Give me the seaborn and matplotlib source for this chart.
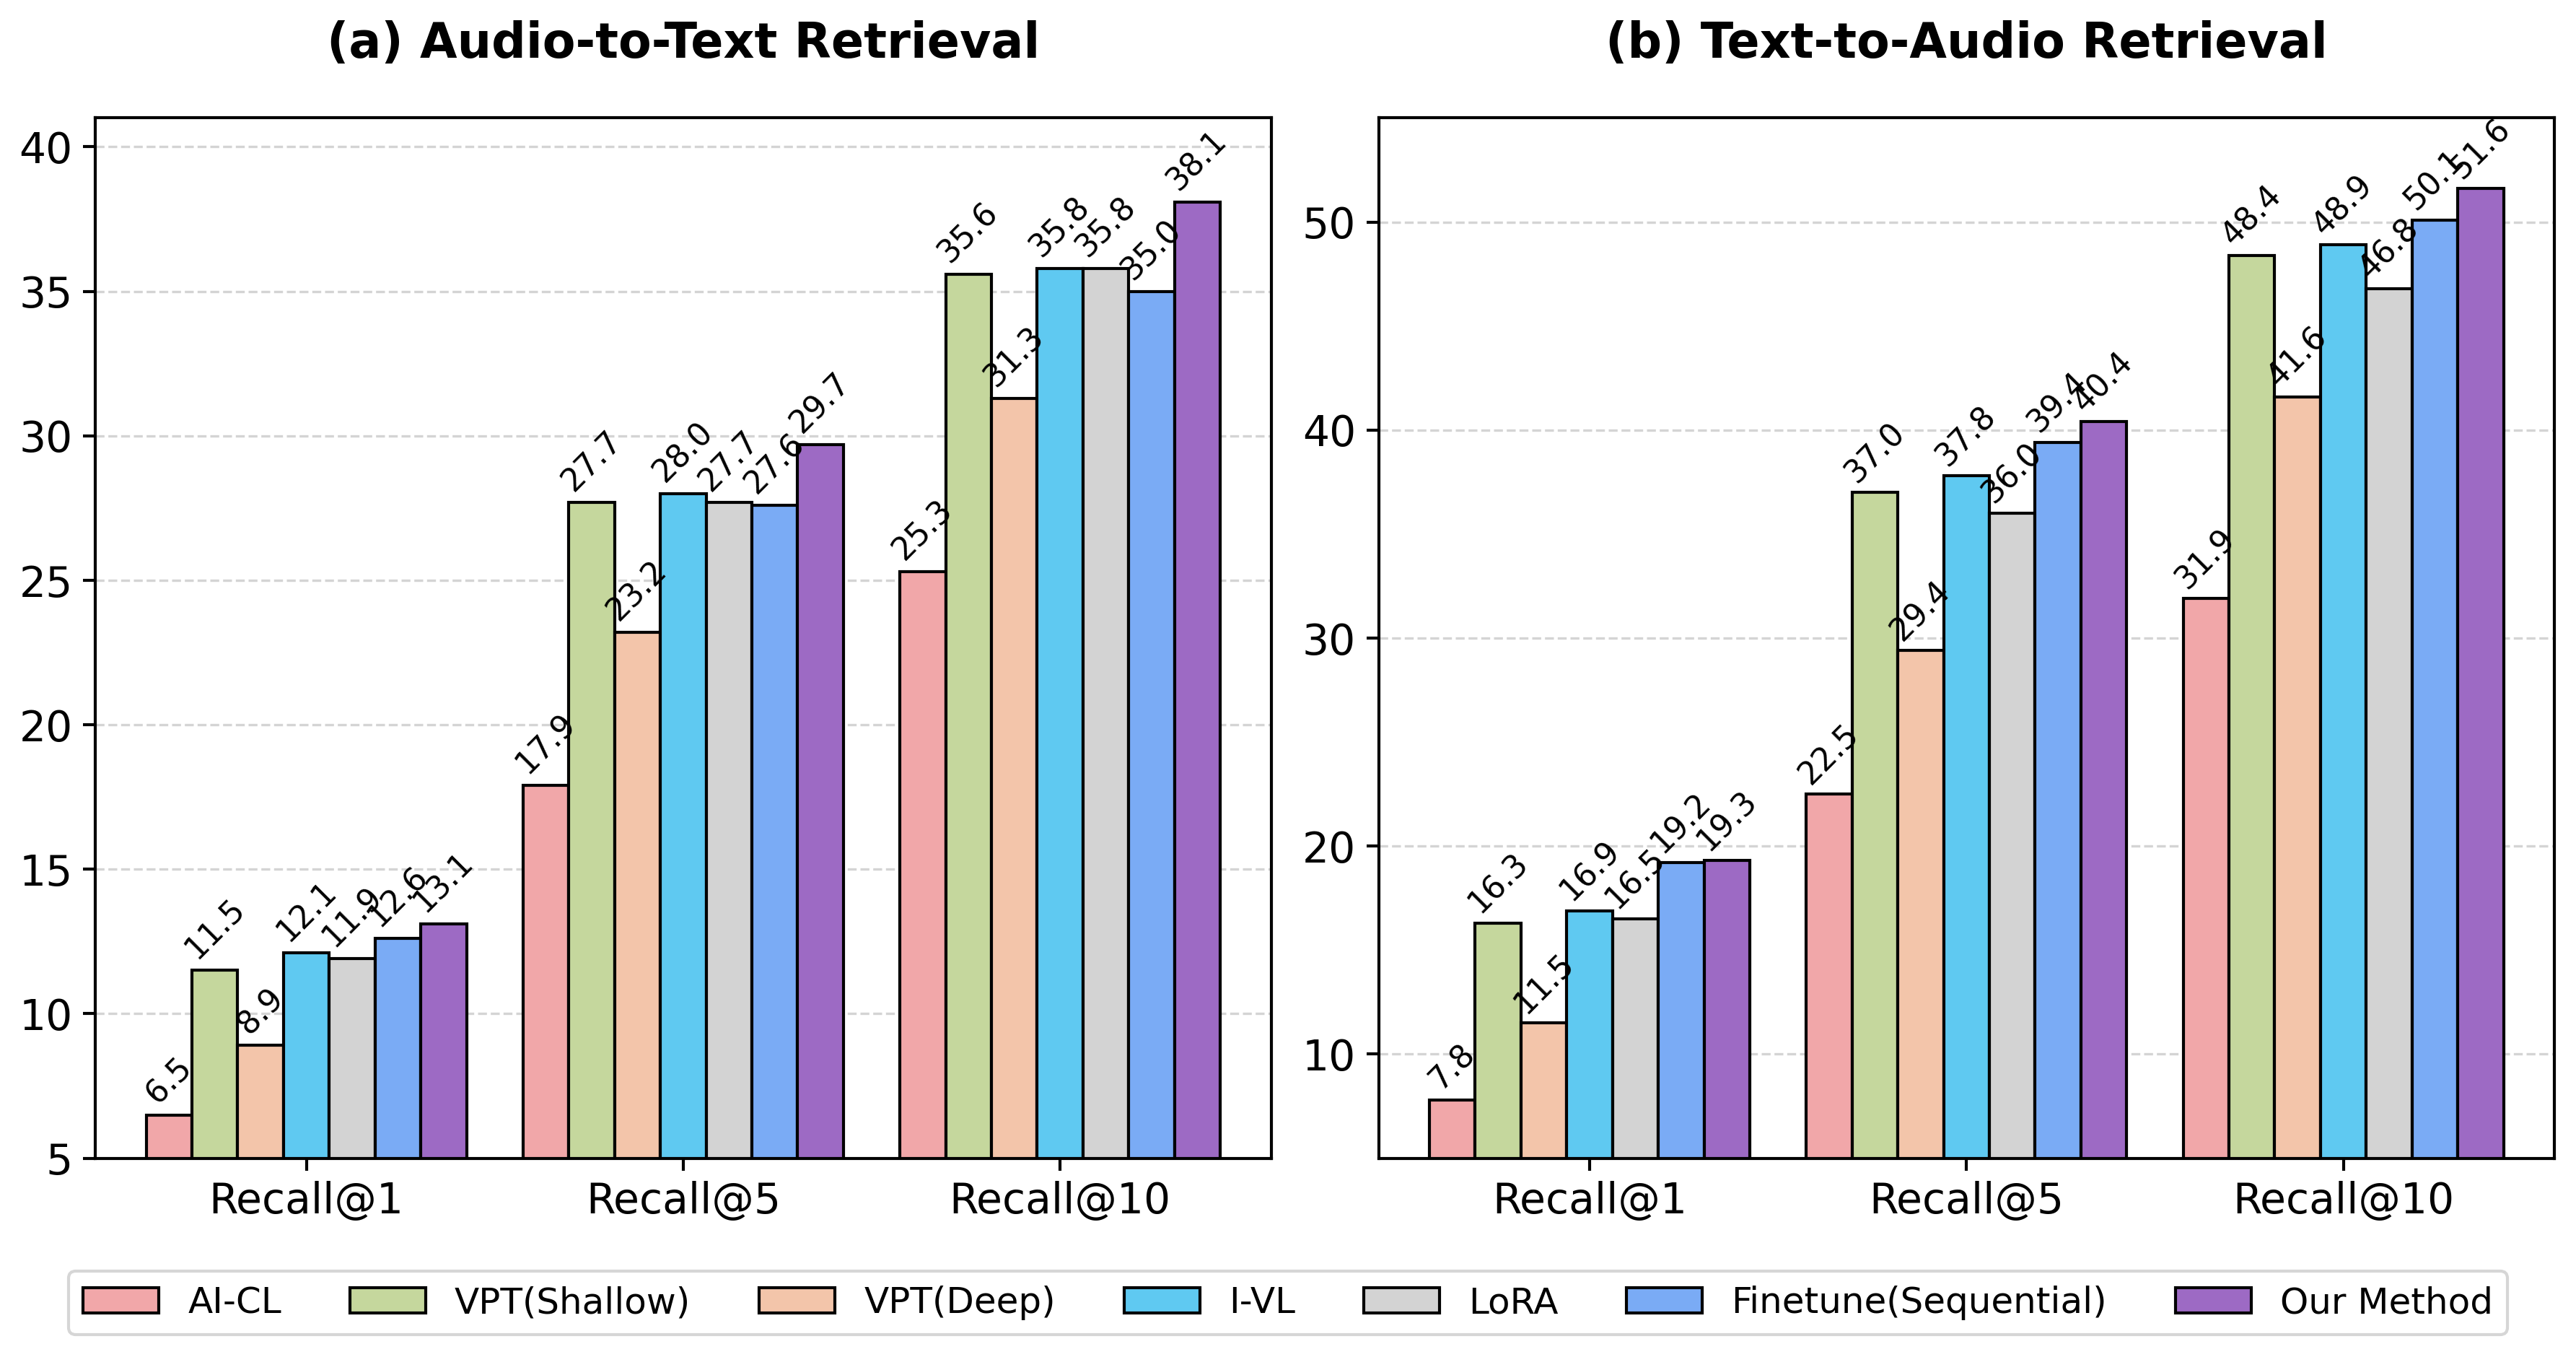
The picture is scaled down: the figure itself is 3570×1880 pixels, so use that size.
"""Audio/text retrieval recall comparison"""
import pandas as pd
import numpy as np
import matplotlib
matplotlib.use('Agg')
import matplotlib.pyplot as plt
import seaborn as sns

methods = ['AI-CL', 'VPT(Shallow)', 'VPT(Deep)', 'I-VL', 'LoRA',
           'Finetune(Sequential)', 'Our Method']
metrics = ['Recall@1', 'Recall@5', 'Recall@10']
colors = ['#F1A7A9', '#C5D79D', '#F3C5AA', '#5FC9F1', '#D3D3D3',
          '#7AABF5', '#9D6AC4']

# rows = methods, columns = Recall@1, @5, @10
a2t = [
    [6.5, 17.9, 25.3],
    [11.5, 27.7, 35.6],
    [8.9, 23.2, 31.3],
    [12.1, 28.0, 35.8],
    [11.9, 27.7, 35.8],
    [12.6, 27.6, 35.0],
    [13.1, 29.7, 38.1],
]
t2a = [
    [7.8, 22.5, 31.9],
    [16.3, 37.0, 48.4],
    [11.5, 29.4, 41.6],
    [16.9, 37.8, 48.9],
    [16.5, 36.0, 46.8],
    [19.2, 39.4, 50.1],
    [19.3, 40.4, 51.6],
]

panels = [
    ('(a) Audio-to-Text Retrieval', a2t, (5, 41), [5, 10, 15, 20, 25, 30, 35, 40]),
    ('(b) Text-to-Audio Retrieval', t2a, (5, 55), [10, 20, 30, 40, 50]),
]


def to_long(values):
    rows = []
    for m, vals in zip(methods, values):
        for metric, v in zip(metrics, vals):
            rows.append({'Method': m, 'Metric': metric, 'Recall': v})
    return pd.DataFrame(rows)


sns.set_style('white')
plt.rcParams['font.family'] = ['DejaVu Sans']
plt.rcParams['text.color'] = 'black'
plt.rcParams['axes.labelcolor'] = 'black'
plt.rcParams['xtick.color'] = 'black'
plt.rcParams['ytick.color'] = 'black'

fig, axes = plt.subplots(1, 2, figsize=(11.9, 6.267), dpi=300)

for ax, (title, values, ylim, yticks) in zip(axes, panels):
    df = to_long(values)
    sns.barplot(data=df, x='Metric', y='Recall', hue='Method',
                order=metrics, hue_order=methods, palette=colors,
                width=0.85, edgecolor='black', linewidth=1.0,
                saturation=1, ax=ax, legend=(ax is axes[0]))
    # value labels on top of each bar
    for container in ax.containers:
        for bar in container:
            h = bar.get_height()
            ax.text(bar.get_x() + bar.get_width() / 2, h + 0.2, f'{h:.1f}',
                    ha='center', va='bottom', rotation=45, fontsize=10.5)
    ax.set_xlim(-0.56, 2.56)
    ax.set_ylim(*ylim)
    ax.set_yticks(yticks)
    ax.set_title(title, fontsize=16, fontweight='bold', pad=20)
    ax.set_xlabel('')
    ax.set_ylabel('')
    ax.tick_params(axis='both', labelsize=14, length=4, width=1,
                   left=True, bottom=True)
    ax.grid(axis='y', linestyle='--', alpha=0.5, color='#aaaaaa')
    ax.set_axisbelow(True)
    for s in ax.spines.values():
        s.set_visible(True)
        s.set_color('black')
        s.set_linewidth(1.0)

handles, labels = axes[0].get_legend_handles_labels()
axes[0].get_legend().remove()
fig.legend(handles, labels, loc='lower center', ncol=7, fontsize=12,
           frameon=True, bbox_to_anchor=(0.5, 0.003), handlelength=2.1,
           columnspacing=1.9)

fig.subplots_adjust(left=0.037, right=0.9916, top=0.913, bottom=0.1465, wspace=0.0914)
fig.savefig('out.png', dpi=300)
